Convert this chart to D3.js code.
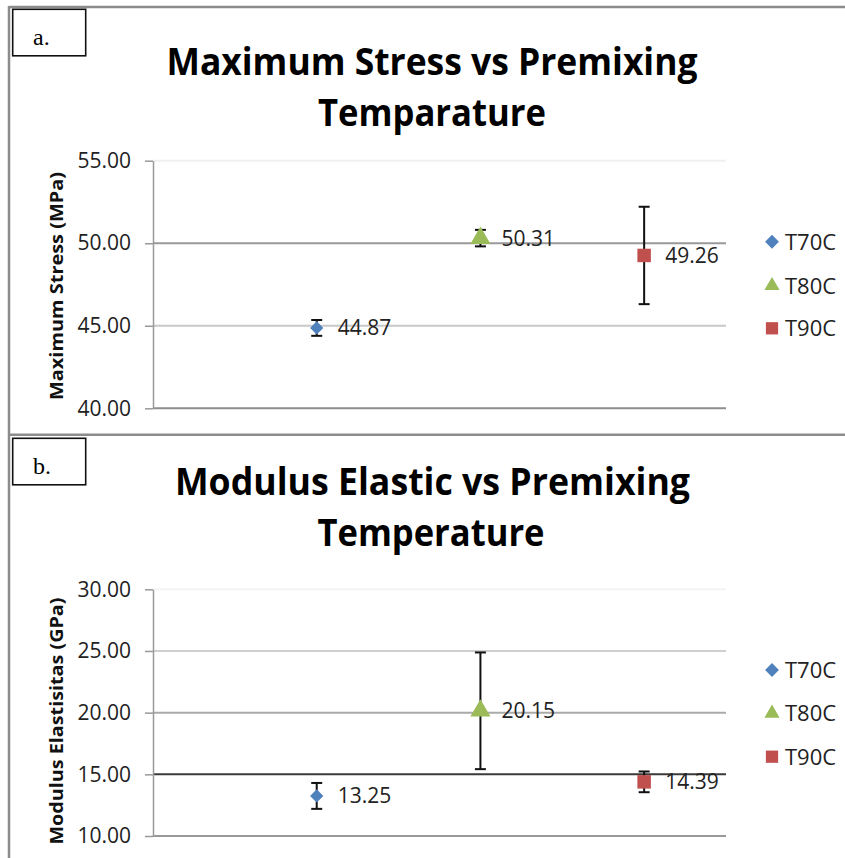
<!DOCTYPE html>
<html>
<head>
<meta charset="utf-8">
<script src="https://cdn.jsdelivr.net/npm/d3@7"></script>
<style>
  body { margin: 0; background: #fff; }
  svg { display: block; }
</style>
</head>
<body>
<svg id="chart" width="845" height="858"></svg>
<script>
// Chart data
const seriesNames = ["T70C", "T80C", "T90C"];
const seriesX = [1, 2, 3];
const stressValues = [44.87, 50.31, 49.26];
const stressErrors = [0.48, 0.5, 2.95];
const stressTicks = [40, 45, 50, 55];
const modulusValues = [13.25, 20.15, 14.39];
const modulusErrors = [1.05, 4.73, 0.84];
const modulusTicks = [10, 15, 20, 25, 30];

const seriesColors = ["#4F81BD", "#9BBB59", "#C0504D"];
const seriesSymbols = [d3.symbolSquare, d3.symbolTriangle, d3.symbolSquare];
const seriesRotate = [45, 0, 0];
const markerSizes = [88, 175, 182];
const legendSizes = [96, 100, 150];

const svg = d3.select("#chart");

// Panel frame lines
const frame = svg.append("g").attr("stroke", "#8c8c8c").attr("stroke-width", 2.5);
frame.append("line").attr("x1", 9).attr("x2", 845).attr("y1", 7).attr("y2", 7);
frame.append("line").attr("x1", 9).attr("x2", 9).attr("y1", 6).attr("y2", 858);
frame.append("line").attr("x1", 9).attr("x2", 845).attr("y1", 434.7).attr("y2", 434.7);

function drawPanel(cfg) {
  const g = svg.append("g");

  // letter box
  g.append("rect")
    .attr("x", 12.7).attr("y", cfg.boxTop)
    .attr("width", 73).attr("height", 46.5)
    .attr("fill", "#fff").attr("stroke", "#111").attr("stroke-width", 1.6);
  g.append("text")
    .attr("x", 33).attr("y", cfg.boxTop + 35.5)
    .attr("font-family", "Liberation Serif, serif")
    .attr("font-size", 24)
    .text(cfg.letter);

  // title, two lines
  cfg.titleLines.forEach(t => {
    g.append("text")
      .attr("x", t.cx).attr("y", t.y)
      .attr("text-anchor", "middle")
      .attr("font-family", "Open Sans, sans-serif")
      .attr("font-weight", 700)
      .attr("font-size", 37)
      .attr("textLength", t.w)
      .attr("lengthAdjust", "spacingAndGlyphs")
      .text(t.text);
  });

  const x = d3.scaleLinear().domain([0, 3.5]).range([153, 726]);
  const y = d3.scaleLinear().domain(d3.extent(cfg.ticks)).range([cfg.bottom, cfg.top]);

  // gridlines
  g.append("g").selectAll("line")
    .data(cfg.ticks)
    .join("line")
    .attr("x1", x.range()[0]).attr("x2", x.range()[1])
    .attr("y1", d => y(d)).attr("y2", d => y(d))
    .attr("stroke", (d, i) => cfg.gridColors[i])
    .attr("stroke-width", 2);

  // y axis with tick labels
  const yAxis = d3.axisLeft(y)
    .tickValues(cfg.ticks)
    .tickFormat(d3.format(".2f"))
    .tickSize(8)
    .tickSizeOuter(0)
    .tickPadding(14);
  const ax = g.append("g")
    .attr("transform", `translate(${x.range()[0]},0)`)
    .call(yAxis);
  ax.select(".domain").attr("stroke", "#999").attr("stroke-width", 1.5);
  ax.selectAll(".tick line").attr("stroke", "#999").attr("stroke-width", 1.5);
  ax.selectAll(".tick text")
    .attr("font-family", "Open Sans, sans-serif")
    .attr("font-size", 21)
    .attr("fill", "#222");

  // y axis title
  g.append("text")
    .attr("transform", `translate(63,${cfg.yTitleCy}) rotate(-90)`)
    .attr("text-anchor", "middle")
    .attr("font-family", "Open Sans, sans-serif")
    .attr("font-weight", 700)
    .attr("font-size", 17)
    .attr("textLength", cfg.yTitleW)
    .attr("lengthAdjust", "spacingAndGlyphs")
    .attr("fill", "#111")
    .text(cfg.yTitle);

  const points = seriesNames.map((name, i) => ({
    name, i, x: seriesX[i], v: cfg.values[i], e: cfg.errors[i]
  }));

  // error bars
  const eb = g.append("g").attr("stroke", "#111").attr("stroke-width", 2);
  points.forEach(p => {
    eb.append("line")
      .attr("x1", x(p.x)).attr("x2", x(p.x))
      .attr("y1", y(p.v + p.e)).attr("y2", y(p.v - p.e));
    [p.v + p.e, p.v - p.e].forEach(v => {
      eb.append("line")
        .attr("x1", x(p.x) - 5.5).attr("x2", x(p.x) + 5.5)
        .attr("y1", y(v)).attr("y2", y(v));
    });
  });

  // markers
  g.append("g").selectAll("path")
    .data(points)
    .join("path")
    .attr("d", p => d3.symbol(seriesSymbols[p.i], markerSizes[p.i])())
    .attr("transform", p => `translate(${x(p.x)},${y(p.v)}) rotate(${seriesRotate[p.i]})`)
    .attr("fill", p => seriesColors[p.i]);

  // data labels
  g.append("g").selectAll("text")
    .data(points)
    .join("text")
    .attr("x", p => x(p.x) + 21)
    .attr("y", p => y(p.v))
    .attr("dy", "0.36em")
    .attr("font-family", "Open Sans, sans-serif")
    .attr("font-size", 21)
    .attr("fill", "#222")
    .text(p => d3.format(".2f")(p.v));

  // legend
  const leg = g.append("g").selectAll("g")
    .data(seriesNames)
    .join("g")
    .attr("transform", (d, i) => `translate(772,${cfg.legendY[i]})`);
  leg.append("path")
    .attr("d", (d, i) => d3.symbol(seriesSymbols[i], legendSizes[i])())
    .attr("transform", (d, i) => `rotate(${seriesRotate[i]})`)
    .attr("fill", (d, i) => seriesColors[i]);
  leg.append("text")
    .attr("x", 13)
    .attr("dy", "0.36em")
    .attr("font-family", "Open Sans, sans-serif")
    .attr("font-size", 22)
    .attr("fill", "#222")
    .text(d => d);
}

drawPanel({
  letter: "a.",
  boxTop: 9.3,
  titleLines: [
    { text: "Maximum Stress vs Premixing", cx: 432, y: 75, w: 531 },
    { text: "Temparature", cx: 432, y: 126, w: 228 }
  ],
  ticks: stressTicks,
  values: stressValues,
  errors: stressErrors,
  top: 160.7,
  bottom: 408.3,
  gridColors: ["#8e8e8e", "#c8c8c8", "#999", "#f0f0f0"],
  yTitle: "Maximum Stress (MPa)",
  yTitleCy: 286,
  yTitleW: 228,
  legendY: [241.7, 285.7, 328.3]
});

drawPanel({
  letter: "b.",
  boxTop: 438.3,
  titleLines: [
    { text: "Modulus Elastic vs Premixing", cx: 432.5, y: 495, w: 515 },
    { text: "Temperature", cx: 431, y: 546, w: 227 }
  ],
  ticks: modulusTicks,
  values: modulusValues,
  errors: modulusErrors,
  top: 589.3,
  bottom: 836,
  gridColors: ["#999", "#3a3a3a", "#aaa", "#cfcfcf", "#f3f3f3"],
  yTitle: "Modulus Elastisitas  (GPa)",
  yTitleCy: 721,
  yTitleW: 247,
  legendY: [670, 713.3, 756.7]
});
</script>
</body>
</html>
